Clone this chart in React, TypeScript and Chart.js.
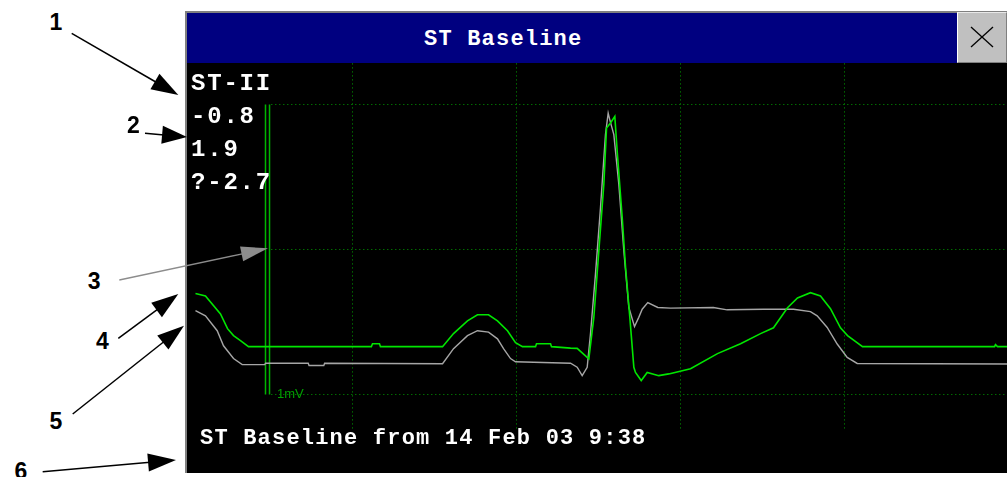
import React, { useEffect, useRef } from "react";
import { Chart, registerables } from "chart.js";

Chart.register(...registerables);

// Current ST-II complex (green), time in ms, amplitude in mV
const currentTimeMs = [8.5, 20.7, 39.0, 47.6, 54.9, 63.4, 73.2, 223.0, 224.4, 232.9, 234.1, 309.8, 323.2, 340.2, 352.4, 365.9, 376.8, 389.0, 398.8, 407.3, 423.2, 424.4, 441.5, 442.7, 465.9, 474.0, 488.2, 494.3, 500.4, 506.5, 509.8, 514.6, 519.9, 522.8, 528.9, 533.0, 538.2, 543.1, 545.1, 552.1, 559.4, 573.5, 585.7, 612.2, 645.1, 673.2, 697.6, 713.4, 730.5, 742.7, 758.5, 770.7, 782.9, 795.1, 803.7, 822.0, 983.0, 984.1, 986.6, 999.0];
const currentMv = [0.348, 0.340, 0.278, 0.227, 0.203, 0.186, 0.165, 0.165, 0.175, 0.175, 0.165, 0.165, 0.210, 0.254, 0.275, 0.275, 0.254, 0.220, 0.179, 0.165, 0.165, 0.175, 0.175, 0.165, 0.160, 0.159, 0.123, 0.266, 0.495, 0.725, 0.919, 0.936, 0.959, 0.838, 0.610, 0.438, 0.266, 0.094, 0.076, 0.048, 0.076, 0.065, 0.071, 0.089, 0.141, 0.175, 0.210, 0.230, 0.299, 0.333, 0.351, 0.340, 0.296, 0.230, 0.203, 0.165, 0.165, 0.172, 0.165, 0.165];

// Stored ST baseline complex (gray)
const baselineTimeMs = [8.5, 20.7, 35.0, 42.7, 54.9, 65.5, 93.0, 94.0, 146.0, 147.0, 165.0, 166.0, 309.8, 323.2, 340.2, 352.4, 365.9, 376.8, 384.2, 392.7, 398.8, 465.9, 474.0, 480.1, 486.2, 490.2, 496.3, 502.4, 508.5, 511.8, 513.8, 518.7, 524.8, 530.9, 537.0, 543.9, 549.1, 553.3, 560.1, 572.3, 587.8, 640.0, 656.9, 701.2, 737.8, 758.5, 766.7, 778.9, 791.1, 803.3, 815.5, 999.0];
const baselineMv = [0.289, 0.271, 0.220, 0.168, 0.124, 0.103, 0.103, 0.108, 0.108, 0.100, 0.100, 0.108, 0.106, 0.158, 0.203, 0.220, 0.215, 0.192, 0.158, 0.124, 0.113, 0.108, 0.094, 0.065, 0.094, 0.209, 0.415, 0.644, 0.896, 0.970, 0.947, 0.896, 0.724, 0.495, 0.300, 0.234, 0.266, 0.294, 0.317, 0.300, 0.298, 0.300, 0.292, 0.294, 0.294, 0.286, 0.271, 0.231, 0.174, 0.128, 0.107, 0.105];

// Grid and calibration
const gridTimeMs = [200, 400, 600, 800];
const gridMv = [0, 0.5, 1.0];
const calibrationTimeMs = [93.9, 98.8];
const calibrationMv = [0, 1];
const gridVerticalBottomMv = -0.117;
const gridHorizontalStartMs = 101;

const X_MIN = -1.83;
const X_MAX = 998.17;
const Y_MAX = 1.1431;
const Y_MIN = -0.2707;

// Texts
const titleText = "ST Baseline";
const stLines = ["ST-II", "-0.8", "1.9", "?-2.7"];
const footerText = "ST Baseline from 14 Feb 03 9:38";
const calibrationLabel = "1mV";
const calloutLabels = ["1", "2", "3", "4", "5", "6"];

const MONO = "'Liberation Mono', 'Courier New', monospace";
const SANS = "'Liberation Sans', Arial, sans-serif";

function Arrow(props: { x1: number; y1: number; x2: number; y2: number; len: number; hw: number; color: string; width: number }) {
  const { x1, y1, x2, y2, len, hw, color, width } = props;
  const dx = x2 - x1;
  const dy = y2 - y1;
  const d = Math.hypot(dx, dy);
  const ux = dx / d;
  const uy = dy / d;
  const bx = x2 - ux * len;
  const by = y2 - uy * len;
  const px = -uy * hw;
  const py = ux * hw;
  const pts = `${x2},${y2} ${bx + px},${by + py} ${bx - px},${by - py}`;
  return (
    <g>
      <line x1={x1} y1={y1} x2={bx + ux * 2} y2={by + uy * 2} stroke={color} strokeWidth={width} />
      <polygon points={pts} fill={color} />
    </g>
  );
}

export default function App() {
  const canvasRef = useRef<HTMLCanvasElement | null>(null);

  useEffect(() => {
    const canvas = canvasRef.current;
    if (!canvas) return;
    const base = { showLine: true, pointRadius: 0, pointHoverRadius: 0, tension: 0, fill: false };
    const datasets: any[] = [];
    datasets.push({
      ...base,
      label: "Current",
      data: currentTimeMs.map((x, i) => ({ x, y: currentMv[i] })),
      borderColor: "#00e600",
      borderWidth: 1.6,
      order: 0,
    });
    datasets.push({
      ...base,
      label: "Baseline",
      data: baselineTimeMs.map((x, i) => ({ x, y: baselineMv[i] })),
      borderColor: "#a6a6a6",
      borderWidth: 1.4,
      order: 1,
    });
    calibrationTimeMs.forEach((t) =>
      datasets.push({
        ...base,
        label: "cal",
        data: calibrationMv.map((v) => ({ x: t, y: v })),
        borderColor: "#00b400",
        borderWidth: 1.5,
        order: 2,
      })
    );
    gridTimeMs.forEach((t) =>
      datasets.push({
        ...base,
        label: "gridV",
        data: [
          { x: t, y: gridVerticalBottomMv },
          { x: t, y: Y_MAX },
        ],
        borderColor: "#00a000",
        borderWidth: 1,
        borderDash: [1, 3],
        order: 3,
      })
    );
    gridMv.forEach((v) =>
      datasets.push({
        ...base,
        label: "gridH",
        data: [
          { x: gridHorizontalStartMs, y: v },
          { x: X_MAX, y: v },
        ],
        borderColor: "#00a000",
        borderWidth: 1,
        borderDash: [1, 3],
        order: 3,
      })
    );

    const chart = new Chart(canvas, {
      type: "scatter",
      data: { datasets },
      options: {
        animation: false,
        responsive: false,
        maintainAspectRatio: false,
        devicePixelRatio: 1,
        events: [],
        layout: { padding: 0 },
        plugins: { legend: { display: false }, tooltip: { enabled: false }, title: { display: false } },
        scales: {
          x: { type: "linear", min: X_MIN, max: X_MAX, display: false },
          y: { type: "linear", min: Y_MIN, max: Y_MAX, display: false },
        },
      },
    });
    return () => chart.destroy();
  }, []);

  const abs = (s: React.CSSProperties): React.CSSProperties => ({ position: "absolute", ...s });

  const monoText = (size: number, spacing: number): React.CSSProperties => ({
    fontFamily: MONO,
    fontWeight: "bold",
    fontSize: size,
    letterSpacing: spacing,
    lineHeight: 1,
    whiteSpace: "pre",
    color: "#fff",
  });

  const stTops = [71.6, 104.9, 138.3, 170.9];
  const calloutPos = [
    [55.8, 11],
    [133.3, 113.7],
    [94.2, 269.7],
    [102.5, 330.3],
    [55.8, 410.3],
    [20.8, 459.7],
  ];

  return (
    <div style={{ position: "fixed", left: 0, top: 0, width: 1007, height: 477, overflow: "hidden", background: "#fff" }}>
      <div style={abs({ left: 185, top: 11, width: 822, height: 462, background: "#808080" })} />
      <div style={abs({ left: 187, top: 13, width: 770, height: 50, background: "#000080" })} />
      <div
        style={abs({
          left: 957,
          top: 12,
          width: 50,
          height: 51,
          background: "#c0c0c0",
          boxSizing: "border-box",
          borderLeft: "1px solid #ffffff",
          borderTop: "1px solid #e8e8e8",
          borderRight: "1px solid #808080",
          borderBottom: "1px solid #808080",
        })}
      />
      <div style={abs({ left: 187, top: 63, width: 820, height: 410, background: "#000" })}>
        <canvas ref={canvasRef} width={820} height={410} style={{ display: "block", width: 820, height: 410 }} />
      </div>

      <div style={abs({ left: 424, top: 29.1, ...monoText(22, 1.2) })}>{titleText}</div>
      {stLines.map((s, i) => (
        <div key={i} style={abs({ left: 191, top: stTops[i], ...monoText(24, 1.8) })}>
          {s}
        </div>
      ))}
      <div style={abs({ left: 200, top: 428.1, ...monoText(22, 1.2) })}>{footerText}</div>
      <div
        style={abs({
          left: 277,
          top: 387,
          fontFamily: SANS,
          fontSize: 13,
          lineHeight: 1,
          color: "#00a000",
          whiteSpace: "pre",
        })}
      >
        {calibrationLabel}
      </div>

      {calloutLabels.map((s, i) => (
        <div
          key={"c" + i}
          style={abs({
            left: calloutPos[i][0] - 15,
            top: calloutPos[i][1],
            width: 30,
            textAlign: "center",
            fontFamily: SANS,
            fontWeight: "bold",
            fontSize: 23,
            lineHeight: 1,
            color: "#000",
          })}
        >
          {s}
        </div>
      ))}

      <svg width={1007} height={477} style={abs({ left: 0, top: 0, pointerEvents: "none" })}>
        <line x1={971} y1={27} x2={993} y2={47} stroke="#000" strokeWidth={1.3} />
        <line x1={993} y1={27} x2={971} y2={47} stroke="#000" strokeWidth={1.3} />
        <Arrow x1={71.7} y1={33.3} x2={178.3} y2={95} len={27} hw={9} color="#000" width={1.5} />
        <Arrow x1={145} y1={133.3} x2={187} y2={137} len={25} hw={9} color="#000" width={1.5} />
        <Arrow x1={119.3} y1={280} x2={268} y2={248.3} len={27} hw={7.5} color="#8c8c8c" width={1.3} />
        <Arrow x1={118.3} y1={338.3} x2={178.3} y2={294} len={27} hw={9} color="#000" width={1.5} />
        <Arrow x1={72.7} y1={414} x2={184} y2={325.7} len={27} hw={9} color="#000" width={1.5} />
        <Arrow x1={42.7} y1={471.7} x2={176} y2={460} len={28} hw={9} color="#000" width={1.5} />
      </svg>
    </div>
  );
}
